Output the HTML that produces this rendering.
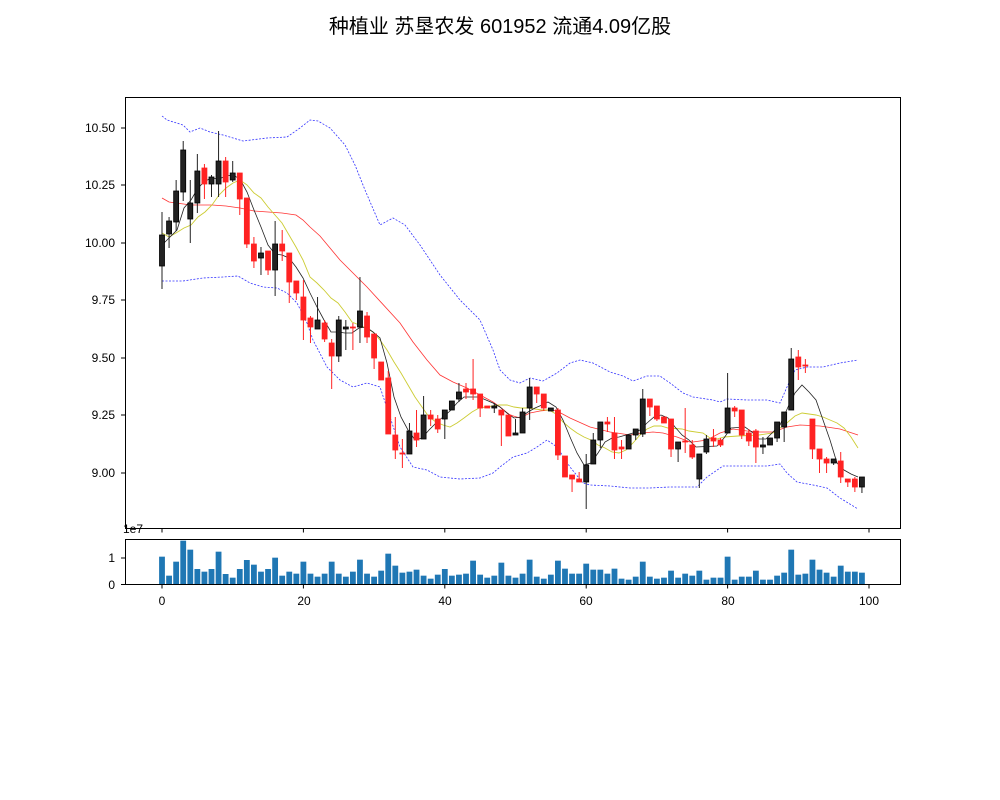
<!DOCTYPE html>
<html><head><meta charset="utf-8"><style>
body{margin:0;background:#fff;}
svg{display:block;font-family:"Liberation Sans","DejaVu Sans","Noto Sans CJK SC",sans-serif;}
</style></head><body>
<svg id="s" width="1000" height="800" xmlns="http://www.w3.org/2000/svg">
<rect width="1000" height="800" fill="#fff"/>
<text x="500" y="33" font-size="20" text-anchor="middle" font-family="'Liberation Sans','Noto Sans CJK SC',sans-serif">种植业 苏垦农发 601952 流通4.09亿股</text>
<g id="lines"></g>
<g id="candles"></g>
<g id="vol" fill="#1f77b4"></g>
<rect x="125.5" y="97.5" width="775" height="431" fill="none" stroke="#000" stroke-width="1"/>
<rect x="125.5" y="539.5" width="775" height="45" fill="none" stroke="#000" stroke-width="1"/>
<g font-size="12" text-anchor="end" fill="#000">
<text x="115" y="132">10.50</text>
<text x="115" y="189">10.25</text>
<text x="115" y="247">10.00</text>
<text x="115" y="304">9.75</text>
<text x="115" y="362">9.50</text>
<text x="115" y="419">9.25</text>
<text x="115" y="477">9.00</text>
<text x="115" y="562">1</text>
<text x="115" y="589">0</text>
</g>
<g stroke="#000" stroke-width="1">
<line x1="121" x2="125" y1="128" y2="128"/><line x1="121" x2="125" y1="185" y2="185"/>
<line x1="121" x2="125" y1="243" y2="243"/><line x1="121" x2="125" y1="300" y2="300"/>
<line x1="121" x2="125" y1="358" y2="358"/><line x1="121" x2="125" y1="415" y2="415"/>
<line x1="121" x2="125" y1="473" y2="473"/><line x1="121" x2="125" y1="558" y2="558"/>
<line x1="121" x2="125" y1="584.5" y2="584.5"/>
</g>
<g id="xt" stroke="#000"></g>
<text x="123" y="533" font-size="12">1e7</text>
<g font-size="12" text-anchor="middle">
<text x="162" y="605">0</text><text x="304" y="605">20</text><text x="445" y="605">40</text>
<text x="586" y="605">60</text><text x="728" y="605">80</text><text x="869" y="605">100</text>
</g>
</svg>
<script>
var NS="http://www.w3.org/2000/svg";
function el(p,t,a){var e=document.createElementNS(NS,t);for(var k in a)e.setAttribute(k,a[k]);p.appendChild(e);return e;}
var xt=document.getElementById('xt');
[0,20,40,60,80,100].forEach(function(v){var x=162+v*7.07;
el(xt,'line',{x1:x,x2:x,y1:528.5,y2:532.5});el(xt,'line',{x1:x,x2:x,y1:584.5,y2:588.5});});
var C=[
['k',235,266,212,289],['k',221,234,217,248],['k',191,222,180,231],['k',150,192,141,201],['k',203,219,180,243],
['k',171,203,154,213],['r',168,184,164,199],['k',177,184,175,197],['k',161,184,131,197],['r',161,182,157,197],
['k',173,180,161,182],['r',173,199,173,215],['r',198,244,198,248],['r',244,261,237,268],['k',253,258,247,275],
['r',251,270,251,275],['k',244,270,221,296],['r',244,251,230,261],['r',253,282,253,303],['r',281,293,281,300],
['r',297,320,280,340],['r',318,327,316,343],['k',320,329,297,329],['r',323,339,320,342],['r',343,356,339,389],
['k',320,356,316,362],['k',327,329,320,350],['r',327,328,323,350],['k',311,327,277,343],['r',316,337,312,343],
['r',334,358,334,369],['r',362,380,362,380],['r',378,434,371,434],['r',435,450,417,459],['r',453,454,439,468],
['k',431,454,423,454],['r',433,440,410,447],['k',415,439,396,439],['r',415,419,410,426],['r',419,429,415,433],
['k',410,419,410,439],['k',401,410,401,410],['k',392,399,383,402],['r',389,392,383,399],['r',389,394,359,400],
['r',394,408,394,417],['r',406,408,406,408],['k',406,408,403,413],['r',410,415,410,446],['r',415,436,415,436],
['k',433,435,419,435],['k',412,433,408,433],['k',387,408,378,420],['r',387,394,387,403],['r',394,408,394,411],
['k',408,411,408,411],['r',410,455,408,460],['r',456,477,456,477],['r',475,479,475,492],['r',479,482,472,482],
['k',465,482,454,509],['k',440,464,433,464],['k',422,440,422,448],['r',422,424,417,432],['r',433,450,417,459],
['r',447,449,440,459],['k',435,449,435,449],['k',429,435,429,440],['k',399,434,389,437],['r',399,407,399,416],
['r',406,419,406,421],['r',417,423,417,423],['r',419,449,419,457],['k',442,449,442,462],['r',441,442,408,453],
['r',445,457,440,459],['k',454,479,454,488],['k',439,452,435,454],['r',438,441,429,447],['r',440,445,438,447],
['k',408,433,373,433],['r',408,411,406,417],['r',410,435,410,439],['r',433,441,429,446],['r',431,447,429,463],
['k',445,447,437,454],['k',438,445,438,445],['k',422,438,422,442],['k',412,427,412,442],['k',359,410,348,410],
['r',357,367,350,380],['r',365,366,359,373],['r',419,449,419,459],['r',449,459,449,473],['r',459,463,457,473],
['k',459,463,459,465],['r',461,477,452,483],['r',479,482,479,487],['r',479,487,477,492],['k',477,487,477,493]];
var cg=document.getElementById('candles');
C.forEach(function(c,i){var x=162+7.07*i;var col=c[0]=='k'?'#222':'#ff2222';var ed=c[0]=='k'?'#000':'#ff2222';
el(cg,'line',{x1:x,x2:x,y1:c[3],y2:c[4],stroke:c[0]=='k'?'#222':'#ff2222','stroke-width':1});
var h=Math.max(1,c[2]-c[1]);el(cg,'rect',{x:x-2.5,y:c[1],width:5,height:h,fill:col,stroke:ed,'stroke-width':0.8});});
var V=[110,167,125,62,89,147,155,147,95,162,173,147,120,134,155,147,113,167,155,161,125,161,170,161,125,161,170,155,119,161,170,152,101,137,158,155,149,167,176,164,147,167,164,161,122,164,173,167,128,167,173,161,119,170,176,164,122,146,161,161,131,149,149,161,146,176,179,170,125,170,176,173,152,173,161,167,152,179,173,173,110,179,170,170,152,179,179,167,158,89,164,161,119,149,158,170,137,155,155,158];
var vg=document.getElementById('vol');
V.forEach(function(z,i){var x=162+7.07*i;var t=520+z/3;el(vg,'rect',{x:x-2.9,y:t,width:5.8,height:585-t});});
var lg=document.getElementById('lines');
function pl(pts,col,w,dash){var a={points:pts,fill:'none',stroke:col,'stroke-width':w};if(dash)a['stroke-dasharray']=dash;el(lg,'polyline',a);}
pl("162,116 167,120 183,125 190,132 200,128 210,132 223,135 243,141 267,138 287,137 300,128 310,120 318,121 330,128 345,145 355,165 365,190 380,225 393,218 405,225 420,245 440,275 460,300 480,320 493,350 500,370 510,380 520,383 530,378 543,381 557,373 570,363 580,360 593,363 610,372 623,376 633,381 647,376 660,376 670,383 683,393 693,397 713,400 720,402 727,399 747,400 767,400 780,403 787,387 795,370 807,367 823,367 840,363 858,360","#3333ff",0.8,"2,1.5");
pl("162,281 183,281 203,278 223,277 238,276 250,283 263,287 277,288 287,293 297,303 307,323 313,340 327,367 340,380 353,387 367,383 380,387 390,417 400,447 413,467 427,470 440,477 460,479 480,478 493,473 500,467 513,457 527,453 537,447 547,440 557,447 570,467 583,483 590,485 610,486 630,488 650,488 670,487 690,487 697,487 707,477 723,466 747,466 767,466 780,464 787,473 797,482 813,485 827,488 840,498 858,509","#3333ff",0.8,"2,1.5");
pl("162,198 169,202 176,203 191,205 212,205 226,206 240,208 254,211 268,212 282,213 296,215 303,220 310,227 320,236 330,248 340,260 367,287 400,323 413,342 427,360 440,375 453,382 467,388 480,395 493,402 500,407 510,415 520,418 530,413 540,411 550,410 557,411 570,418 590,427 610,432 630,435 643,433 653,432 663,433 677,437 690,442 693,442 707,440 720,433 733,429 747,431 760,432 773,432 787,427 800,425 820,426 840,429 858,435","#ff3333",0.8);
pl("162,233 169,237 176,233 184,228 191,225 198,217 205,212 212,205 219,195 226,188 233,183 240,180 247,185 254,193 261,198 268,207 275,215 282,223 289,235 296,247 303,260 310,277 317,283 324,290 331,298 338,303 345,312 352,322 359,325 366,328 373,332 380,340 387,350 394,362 401,373 408,385 415,397 422,407 429,417 436,422 443,425 450,427 457,423 464,418 472,412 479,408 486,407 499,405 507,405 514,407 521,408 528,408 535,409 542,410 549,410 556,414 563,422 570,428 577,433 584,437 591,440 598,445 605,448 612,452 619,453 626,450 633,443 640,435 647,429 654,426 661,426 668,428 682,429 689,431 703,433 710,438 717,439 724,437 738,436 759,435 773,433 780,428 788,422 795,416 802,413 816,415 823,417 830,420 837,423 844,428 851,437 858,448","#cccc33",0.9);
pl("162,245 169,238 177,230 184,208 191,200 198,188 205,181 212,178 219,179 226,176 233,175 240,179 247,192 254,210 261,227 268,245 275,254 282,255 289,258 296,267 303,278 310,293 317,307 324,320 331,332 338,332 345,333 352,333 359,328 366,327 373,332 380,338 387,363 394,397 401,417 408,430 415,440 422,438 429,430 436,423 443,417 450,411 457,403 464,397 479,397 486,400 493,403 500,407 507,413 514,418 521,417 528,412 535,408 542,405 548,402 556,407 563,420 570,437 577,453 584,465 591,463 598,453 605,442 612,438 619,437 626,435 633,433 640,430 647,423 654,417 661,415 668,418 675,427 682,435 689,440 696,447 717,446 724,438 731,428 745,427 752,432 759,439 766,439 773,432 780,425 788,407 795,393 802,385 809,392 816,400 823,420 830,440 837,463 844,470 851,474 858,477","#222",0.8);
</script>
</body></html>
